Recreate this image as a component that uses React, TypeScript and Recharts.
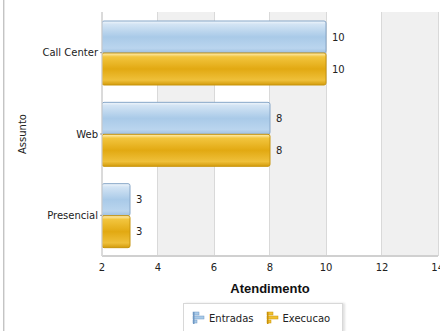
import React from 'react';
import {
  BarChart,
  Bar,
  XAxis,
  YAxis,
  CartesianGrid,
  ReferenceArea,
  LabelList,
} from 'recharts';

const assuntos = ['Call Center', 'Web', 'Presencial'];
const entradas = [10, 8, 3];
const execucao = [10, 8, 3];
const xTicks = [2, 4, 6, 8, 10, 12, 14];
const shadedBands = [
  [4, 6],
  [8, 10],
  [12, 14],
];

const data = assuntos.map((name, i) => ({
  name,
  Entradas: entradas[i],
  Execucao: execucao[i],
}));

const FONT = '"DejaVu Sans", Tahoma, sans-serif';

const LegendIcon = ({ color, dark }: { color: string; dark: string }) => (
  <svg width={14} height={14} style={{ marginRight: 3 }}>
    <rect x={1} y={1} width={6} height={3} fill={color} stroke={dark} strokeWidth={0.5} />
    <rect x={1} y={5} width={11} height={3} fill={color} stroke={dark} strokeWidth={0.5} />
    <rect x={1} y={9} width={4} height={3} fill={color} stroke={dark} strokeWidth={0.5} />
    <rect x={1} y={1} width={1.5} height={12} fill={dark} />
  </svg>
);

// legend box sits below the axis title, cut by the bottom edge like in the original
const ChartLegend = () => (
  <div
    style={{
      position: 'absolute',
      left: 183,
      top: 303,
      display: 'flex',
      alignItems: 'center',
      height: 28,
      padding: '0 12px 0 8px',
      border: '1px solid #d8d8d8',
      borderBottom: 'none',
      boxShadow: '2px 0 2px rgba(0,0,0,0.12)',
      background: '#fff',
      fontFamily: FONT,
      fontSize: 10,
      color: '#222',
    }}
  >
    <LegendIcon color="#a9cae8" dark="#6f98c4" />
    <span style={{ marginRight: 12 }}>Entradas</span>
    <LegendIcon color="#f0c030" dark="#c9920a" />
    <span>Execucao</span>
  </div>
);

const App = () => {
  return (
    <div style={{ position: 'absolute', left: 0, top: 0, width: 440, height: 331, overflow: 'hidden', background: '#fff' }}>
      <div style={{ position: 'absolute', left: 3, top: 0, width: 1, height: 331, background: '#c4c4c4' }} />
      <div style={{ position: 'absolute', left: 4, top: 0, width: 1, height: 331, background: '#e6e6e6' }} />
      <BarChart
        width={444}
        height={331}
        data={data}
        layout="vertical"
        margin={{ top: 12, right: 6, bottom: 30, left: 0 }}
        barGap={0}
        barSize={32}
      >
        <defs>
          <linearGradient id="gBlue" x1="0" y1="0" x2="0" y2="1">
            <stop offset="0%" stopColor="#f2f7fc" />
            <stop offset="10%" stopColor="#d3e4f4" />
            <stop offset="50%" stopColor="#a9cae8" />
            <stop offset="85%" stopColor="#bad5ee" />
            <stop offset="100%" stopColor="#9fc0e0" />
          </linearGradient>
          <linearGradient id="gGold" x1="0" y1="0" x2="0" y2="1">
            <stop offset="0%" stopColor="#fff1bc" />
            <stop offset="12%" stopColor="#f2c53e" />
            <stop offset="50%" stopColor="#e2a912" />
            <stop offset="85%" stopColor="#efc03a" />
            <stop offset="100%" stopColor="#d39c0c" />
          </linearGradient>
        </defs>
        {shadedBands.map(([a, b]) => (
          <ReferenceArea key={a} x1={a} x2={b} fill="#f0f0f0" fillOpacity={1} stroke="none" />
        ))}
        <CartesianGrid horizontal={false} stroke="#cdcdcd" strokeWidth={1.5} />
        <XAxis
          type="number"
          domain={[2, 14]}
          ticks={xTicks}
          allowDataOverflow
          axisLine={{ stroke: '#d0d0d0', strokeWidth: 2 }}
          tickLine={false}
          tick={{ fontFamily: FONT, fontSize: 10, fill: '#222' }}
          height={45}
          label={{
            value: 'Atendimento',
            position: 'insideBottom',
            offset: 8,
            style: { fontFamily: '"Liberation Sans", Arial, sans-serif', fontWeight: 'bold', fontSize: 13, fill: '#111' },
          }}
        />
        <YAxis
          type="category"
          dataKey="name"
          width={102}
          axisLine={{ stroke: '#dcdcdc' }}
          tickLine={{ stroke: '#999' }}
          tickSize={2}
          tick={{ fontFamily: FONT, fontSize: 10, fill: '#222' }}
          tickMargin={2}
          label={{
            value: 'Assunto',
            angle: -90,
            position: 'insideLeft',
            offset: 22,
            style: { fontFamily: FONT, fontSize: 10, fill: '#222', textAnchor: 'middle' },
          }}
        />
        <Bar dataKey="Entradas" fill="url(#gBlue)" stroke="#86a6c8" strokeWidth={1} radius={2} isAnimationActive={false}>
          <LabelList dataKey="Entradas" position="right" offset={6} style={{ fontFamily: FONT, fontSize: 10, fill: '#222' }} />
        </Bar>
        <Bar dataKey="Execucao" fill="url(#gGold)" stroke="#c8950e" strokeWidth={1} radius={2} isAnimationActive={false}>
          <LabelList dataKey="Execucao" position="right" offset={6} style={{ fontFamily: FONT, fontSize: 10, fill: '#222' }} />
        </Bar>
      </BarChart>
      <ChartLegend />
    </div>
  );
};

export default App;
